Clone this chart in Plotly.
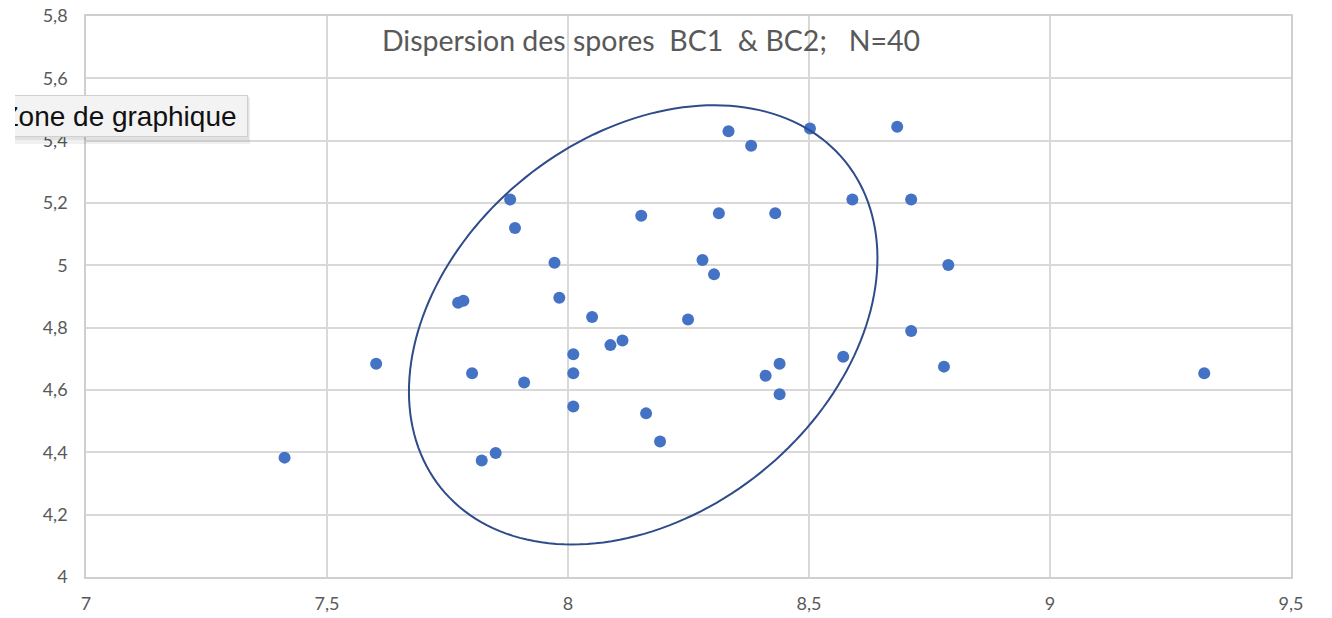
import numpy as np
import plotly.graph_objects as go

# ---- data ----
bc_x = [7.412, 7.602, 7.772, 7.783, 7.801, 7.821, 7.850, 7.880, 7.890, 7.909,
        7.972, 7.982, 8.011, 8.011, 8.011, 8.050, 8.088, 8.113, 8.152, 8.162,
        8.191, 8.249, 8.279, 8.303, 8.313, 8.333, 8.380, 8.410, 8.430, 8.439,
        8.439, 8.502, 8.571, 8.590, 8.683, 8.712, 8.712, 8.780, 8.789, 9.320]
bc_y = [4.383, 4.684, 4.880, 4.886, 4.654, 4.374, 4.398, 5.211, 5.120, 4.624,
        5.008, 4.896, 4.715, 4.654, 4.547, 4.834, 4.744, 4.759, 5.159, 4.525,
        4.435, 4.826, 5.017, 4.971, 5.167, 5.430, 5.384, 4.646, 5.167, 4.684,
        4.586, 5.439, 4.707, 5.211, 5.445, 5.211, 4.789, 4.675, 5.001, 4.654]

x_ticks = [7, 7.5, 8, 8.5, 9, 9.5]
y_ticks = [4, 4.2, 4.4, 4.6, 4.8, 5, 5.2, 5.4, 5.6, 5.8]

title_text = "Dispersion des spores  BC1  & BC2;   N=40"
tooltip_text = "Zone de graphique"

# hand-drawn ellipse (data units)
ell_cx, ell_cy = 8.156, 4.809
ell_a, ell_b = 0.730, 0.447
ell_angle_deg = 70.7

# ---- figure ----
W, H = 1332, 618
ML, MR, MT, MB = 86, 41, 16, 41
PW, PH = W - ML - MR, H - MT - MB


def px_x(p):
    return (p - ML) / PW


def px_y(p):
    return 1 - (p - MT) / PH


fig = go.Figure()
fig.add_trace(go.Scatter(
    x=bc_x, y=bc_y, mode="markers",
    marker=dict(color="#4472C4", size=12, line=dict(width=0)),
    showlegend=False, hoverinfo="skip"))

t = np.linspace(0, 2 * np.pi, 181)
th = np.deg2rad(ell_angle_deg)
ex = ell_cx + ell_a * np.cos(t) * np.cos(th) - ell_b * np.sin(t) * np.sin(th)
ey = ell_cy + ell_a * np.cos(t) * np.sin(th) + ell_b * np.sin(t) * np.cos(th)
path = "M " + " L ".join(f"{a:.5f},{b:.5f}" for a, b in zip(ex, ey)) + " Z"
fig.add_shape(type="path", path=path, xref="x", yref="y",
              line=dict(color="#2F4B8A", width=2), fillcolor="rgba(0,0,0,0)")

grid = "#d9d9d9"
fig.update_xaxes(range=[7, 9.5], tickvals=x_ticks, showgrid=True, gridcolor=grid,
                 gridwidth=1.5, showline=True, mirror=True, linecolor="#cfcfcf",
                 linewidth=1.5, zeroline=False, ticks="", ticklabelstandoff=10,
                 automargin=False,
                 tickfont=dict(family="Lato", size=18, color="#595959"))
fig.update_yaxes(range=[4, 5.8], tickvals=y_ticks, showgrid=True, gridcolor=grid,
                 gridwidth=1.5, showline=True, mirror=True, linecolor="#cfcfcf",
                 linewidth=1.5, zeroline=False, ticks="", ticklabelstandoff=13,
                 automargin=False,
                 tickfont=dict(family="Lato", size=18, color="#595959"))

fig.update_layout(
    width=W, height=H, separators=", ",
    margin=dict(l=ML, r=MR, t=MT, b=MB, autoexpand=False),
    plot_bgcolor="white", paper_bgcolor="white",
    title=dict(text=title_text, x=651 / W, xanchor="center", y=1 - 41 / H,
               yanchor="middle", font=dict(family="Lato", size=28.5, color="#595959")),
)

# tooltip-like box (partly cut on the left)
fig.add_annotation(xref="paper", yref="paper", x=px_x(250), y=px_y(121),
                   xanchor="right", yanchor="middle", text=" ", showarrow=False,
                   bgcolor="rgba(0,0,0,0.06)", width=262, height=44, borderwidth=0)
fig.add_annotation(xref="paper", yref="paper", x=px_x(249), y=px_y(118),
                   xanchor="right", yanchor="middle", text=" ", showarrow=False,
                   bgcolor="rgba(0,0,0,0.06)", width=260, height=42, borderwidth=0)
fig.add_annotation(xref="paper", yref="paper", x=px_x(248), y=px_y(116),
                   xanchor="right", yanchor="middle", text=tooltip_text, showarrow=False,
                   font=dict(family="Liberation Sans", size=28, color="#111111"),
                   width=250, height=34, align="center",
                   bgcolor="#f3f3f3", bordercolor="#d0d0d0", borderwidth=1, borderpad=3)
fig.add_annotation(xref="paper", yref="paper", x=px_x(15), y=px_y(116),
                   xanchor="right", yanchor="middle", text=" ", showarrow=False,
                   bgcolor="white", width=40, height=70, borderwidth=0)

fig.write_html("out.html", config={"displayModeBar": False},
               post_script="document.body.style.margin='0';")
